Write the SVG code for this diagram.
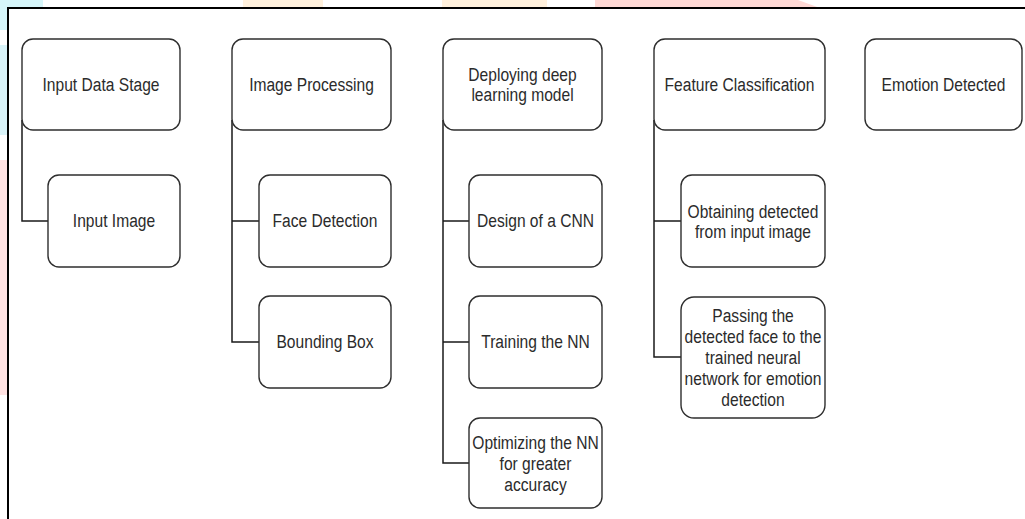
<svg xmlns="http://www.w3.org/2000/svg" width="1025" height="519" viewBox="0 0 1025 519">
  <style>
    .box { fill: #ffffff; stroke: #2e2e2e; stroke-width: 1.4; }
    .lbl { font-family: "Liberation Sans", Arial, sans-serif; font-size: 15.6px; fill: #2b2b2b; text-anchor: middle; }
    .conn { fill: none; stroke: #1a1a1a; stroke-width: 1.5; }
  </style>
  <rect x="0" y="0" width="1025" height="519" fill="#ffffff"/>
  <g id="watermark">
    <rect x="0" y="0" width="43" height="8" fill="#d6f6fa"/>
    <rect x="0" y="0" width="8" height="30" fill="#d6f6fa"/>
    <rect x="0" y="45" width="8" height="90" fill="#d9f3f8"/>
    <rect x="0" y="160" width="8" height="235" fill="#ffe2e2"/>
    <rect x="243" y="0" width="80" height="8" fill="#fff0dc"/>
    <rect x="442" y="0" width="105" height="8" fill="#fff0dc"/>
    <polygon points="595,0 798,0 820,8 595,8" fill="#ffd9d5"/>
  </g>
  <rect id="frame" x="8" y="8" width="1030" height="530" fill="none" stroke="#000000" stroke-width="2"/>
  <g id="connectors">
    <path class="conn" d="M22,120 V221 H48"/>
    <path class="conn" d="M232,120 V342 H259 M232,221 H259"/>
    <path class="conn" d="M443,120 V463 H469 M443,221 H469 M443,342 H469"/>
    <path class="conn" d="M654,120 V357 H681 M654,221 H681"/>
  </g>
  <g id="input-data-stage">
    <rect class="box" x="22" y="39" width="158" height="91" rx="11"/>
    <text class="lbl" transform="translate(101,84.5) scale(1,1.12)"><tspan x="0" y="5.58">Input Data Stage</tspan></text>
  </g>
  <g id="input-image">
    <rect class="box" x="48" y="175" width="132" height="92" rx="11"/>
    <text class="lbl" transform="translate(114,221) scale(1,1.12)"><tspan x="0" y="5.58">Input Image</tspan></text>
  </g>
  <g id="image-processing">
    <rect class="box" x="232" y="39" width="159" height="91" rx="11"/>
    <text class="lbl" transform="translate(311.5,84.5) scale(1,1.12)"><tspan x="0" y="5.58">Image Processing</tspan></text>
  </g>
  <g id="face-detection">
    <rect class="box" x="259" y="175" width="132" height="92" rx="11"/>
    <text class="lbl" transform="translate(325,221) scale(1,1.12)"><tspan x="0" y="5.58">Face Detection</tspan></text>
  </g>
  <g id="bounding-box">
    <rect class="box" x="259" y="296" width="132" height="92" rx="11"/>
    <text class="lbl" transform="translate(325,342) scale(1,1.12)"><tspan x="0" y="5.58">Bounding Box</tspan></text>
  </g>
  <g id="deploying-model">
    <rect class="box" x="443" y="39" width="159" height="91" rx="11"/>
    <text class="lbl" transform="translate(522.5,84.5) scale(1,1.12)"><tspan x="0" y="-3.35">Deploying deep</tspan><tspan x="0" y="14.5">learning model</tspan></text>
  </g>
  <g id="design-cnn">
    <rect class="box" x="469" y="175" width="133" height="92" rx="11"/>
    <text class="lbl" transform="translate(535.5,221) scale(1,1.12)"><tspan x="0" y="5.58">Design of a CNN</tspan></text>
  </g>
  <g id="training-nn">
    <rect class="box" x="469" y="296" width="133" height="92" rx="11"/>
    <text class="lbl" transform="translate(535.5,342) scale(1,1.12)"><tspan x="0" y="5.58">Training the NN</tspan></text>
  </g>
  <g id="optimizing-nn">
    <rect class="box" x="469" y="418" width="133" height="90" rx="11"/>
    <text class="lbl" transform="translate(535.5,464) scale(1,1.12)"><tspan x="0" y="-13.17">Optimizing the NN</tspan><tspan x="0" y="5.58">for greater</tspan><tspan x="0" y="24.33">accuracy</tspan></text>
  </g>
  <g id="feature-classification">
    <rect class="box" x="654" y="39" width="171" height="91" rx="11"/>
    <text class="lbl" transform="translate(739.5,84.5) scale(1,1.12)"><tspan x="0" y="5.58">Feature Classification</tspan></text>
  </g>
  <g id="obtaining-detected">
    <rect class="box" x="681" y="175" width="144" height="92" rx="11"/>
    <text class="lbl" transform="translate(753,221.5) scale(1,1.12)"><tspan x="0" y="-3.35">Obtaining detected</tspan><tspan x="0" y="14.5">from input image</tspan></text>
  </g>
  <g id="passing-face">
    <rect class="box" x="681" y="297" width="144" height="121" rx="13"/>
    <text class="lbl" transform="translate(753,357.5) scale(1,1.12)"><tspan x="0" y="-31.92">Passing the</tspan><tspan x="0" y="-13.17">detected face to the</tspan><tspan x="0" y="5.58">trained neural</tspan><tspan x="0" y="24.33">network for emotion</tspan><tspan x="0" y="43.08">detection</tspan></text>
  </g>
  <g id="emotion-detected">
    <rect class="box" x="865" y="39" width="157" height="91" rx="11"/>
    <text class="lbl" transform="translate(943.5,84.5) scale(1,1.12)"><tspan x="0" y="5.58">Emotion Detected</tspan></text>
  </g>
</svg>
